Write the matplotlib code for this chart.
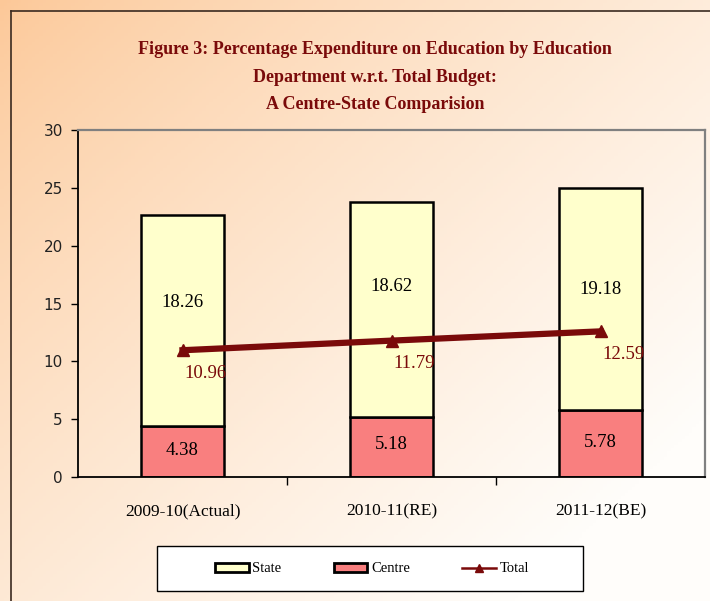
import numpy as np
import matplotlib.pyplot as plt
from matplotlib.lines import Line2D
from matplotlib.patches import Rectangle, Patch

years = ["2009-10(Actual)", "2010-11(RE)", "2011-12(BE)"]
centre = [4.38, 5.18, 5.78]
state = [18.26, 18.62, 19.18]
total = [10.96, 11.79, 12.59]

dark_red = "#7a0a0a"
serif = "Liberation Serif"
state_col = "#ffffcc"
centre_col = "#f97f7f"

fig = plt.figure(figsize=(7.1, 6.01), dpi=100)

# peach -> white gradient background
bg = fig.add_axes([0, 0, 1, 1], zorder=-10)
gx, gy = np.meshgrid(np.linspace(0, 1, 200), np.linspace(0, 1, 200))
t = np.clip(0.62 * gx + 0.55 * gy, 0, 1) ** 0.8
c0 = np.array([252, 200, 152]) / 255
c1 = np.array([255, 253, 250]) / 255
img = c0[None, None, :] * (1 - t[..., None]) + c1[None, None, :] * t[..., None]
bg.imshow(img, extent=[0, 1, 0, 1], aspect="auto", origin="upper")
bg.axis("off")

# outer frame (left and top edges visible)
fig.add_artist(Line2D([11 / 710, 11 / 710], [0, 1 - 11 / 601], color="#3a2a20", lw=1.2))
fig.add_artist(Line2D([11 / 710, 1], [1 - 11 / 601, 1 - 11 / 601], color="#3a2a20", lw=1.2))

ax = fig.add_axes([78 / 710, 124 / 601, 627 / 710, 347 / 601])
ax.set_facecolor("none")

x = np.arange(len(years))
w = 0.40
ax.bar(x, centre, w, color=centre_col, edgecolor="black", linewidth=1.8, zorder=2)
ax.bar(x, state, w, bottom=centre, color=state_col, edgecolor="black", linewidth=1.8, zorder=2)
ax.plot(x, total, color=dark_red, lw=4.5, marker="^", markersize=9, zorder=3)

state_label_y = [15.1, 16.5, 16.2]
centre_label_y = [2.33, 2.77, 2.94]
for i in range(len(years)):
    ax.text(x[i], state_label_y[i], f"{state[i]:.2f}", ha="center", va="center",
            fontsize=13.5, family=serif, color="black", zorder=4)
    ax.text(x[i], centre_label_y[i], f"{centre[i]:.2f}", ha="center", va="center",
            fontsize=13.5, family=serif, color="black", zorder=4)
    ax.annotate(f"{total[i]:.2f}", (x[i], total[i]), xytext=(23, -23),
                textcoords="offset pixels", ha="center", va="center",
                fontsize=13.5, family=serif, color=dark_red, zorder=4)

ax.set_ylim(0, 30)
ax.set_yticks(range(0, 31, 5))
ax.set_xlim(-0.5, 2.5)
ax.set_xticks(x)
ax.set_xticklabels(years, family=serif, fontsize=12.5)
ax.set_xticks([0.5, 1.5], minor=True)
ax.tick_params(axis="x", which="major", length=0, pad=19)
ax.tick_params(axis="x", which="minor", length=6, width=1, direction="out")
ax.tick_params(axis="y", length=5, width=1, direction="out", labelsize=11, pad=6)
for lab in ax.get_yticklabels():
    lab.set_family("DejaVu Sans")
    lab.set_color("#222222")

for s in ["left", "bottom"]:
    ax.spines[s].set_color("black")
    ax.spines[s].set_linewidth(1.3)
for s in ["top", "right"]:
    ax.spines[s].set_color("#808080")
    ax.spines[s].set_linewidth(1.6)

title_lines = ["Figure 3: Percentage Expenditure on Education by Education",
               "Department w.r.t. Total Budget:",
               "A Centre-State Comparision"]
for k, line in enumerate(title_lines):
    fig.text(375 / 710, 1 - (50 + 27 * k) / 601, line, ha="center", va="center",
             fontsize=13, fontweight="bold", family=serif, color=dark_red)

# legend box
fig.add_artist(Rectangle((157 / 710, 1 - 591 / 601), 426 / 710, 45 / 601,
                         transform=fig.transFigure, facecolor="white",
                         edgecolor="black", lw=1.0, zorder=5))
handles = [Patch(facecolor=state_col, edgecolor="black", lw=2),
           Patch(facecolor=centre_col, edgecolor="black", lw=2),
           Line2D([], [], color=dark_red, lw=1.8, marker="^", markersize=6)]
leg = fig.legend(handles, ["State", "Centre", "Total"],
                 loc="center", bbox_to_anchor=(372 / 710, 1 - 569 / 601), ncol=3,
                 prop={"family": serif, "size": 10.5}, frameon=False,
                 handlelength=2.3, handleheight=0.6, columnspacing=3.6,
                 handletextpad=0.25)
leg.set_zorder(6)

fig.savefig("out.png", dpi=100)
